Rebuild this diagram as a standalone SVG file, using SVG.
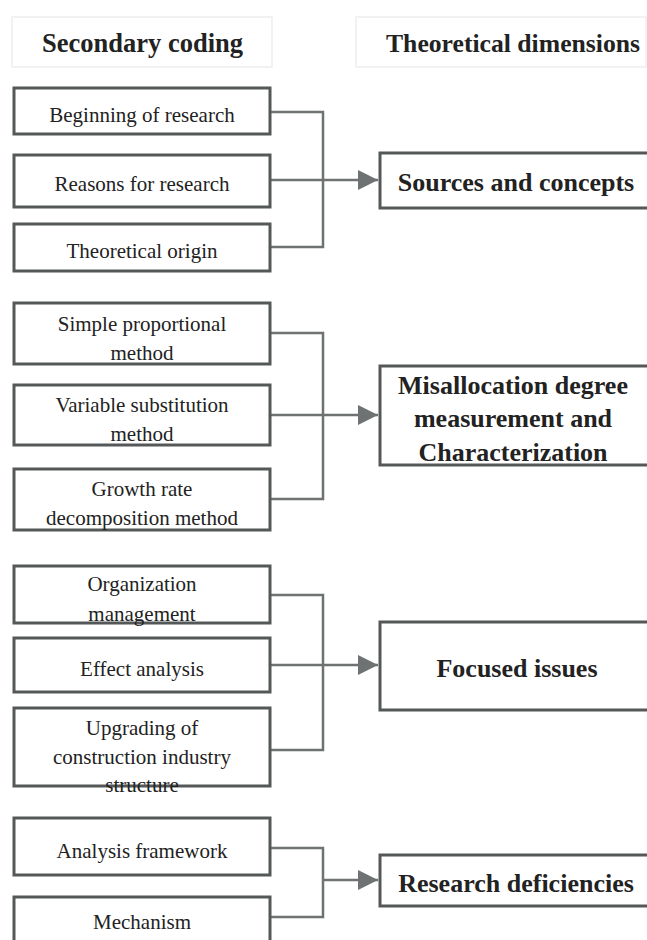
<svg xmlns="http://www.w3.org/2000/svg" width="647" height="940" viewBox="0 0 647 940">
<defs>
<style>
.hdr{fill:#fff;stroke:#eeeeee;stroke-width:1.5}
.box{fill:#fff;stroke:#555858;stroke-width:3}
.t{font-family:"Liberation Serif","Times New Roman",serif;font-size:21px;fill:#222;text-anchor:middle}
.b{font-family:"Liberation Serif","Times New Roman",serif;font-size:26px;font-weight:bold;fill:#222;text-anchor:middle}
.h{font-family:"Liberation Serif","Times New Roman",serif;font-size:26.5px;font-weight:bold;fill:#222}
.c{fill:none;stroke:#6e7272;stroke-width:2.5}
</style>
<marker id="arr" viewBox="0 0 10 10" refX="10" refY="5" markerWidth="9" markerHeight="8" markerUnits="strokeWidth" orient="auto">
<path d="M0,0 L10,5 L0,10 Z" fill="#6e7272"/>
</marker>
</defs>
<rect width="647" height="940" fill="#fff"/>

<g id="header-left">
<rect class="hdr" x="12" y="17" width="260" height="50"/>
<text class="h" x="42" y="52" textLength="201" lengthAdjust="spacingAndGlyphs">Secondary coding</text>
</g>
<g id="header-right">
<rect class="hdr" x="356" y="17" width="290" height="50"/>
<text class="h" x="386" y="52" style="font-size:25.5px" textLength="254" lengthAdjust="spacingAndGlyphs">Theoretical dimensions</text>
</g>

<g id="connectors">
<path class="c" d="M270,112 H323 V247 H270 M270,180 H323"/>
<path class="c" d="M323,180 H378" marker-end="url(#arr)"/>
<path class="c" d="M270,333 H323 V499 H270 M270,415 H323"/>
<path class="c" d="M323,415 H378" marker-end="url(#arr)"/>
<path class="c" d="M270,595 H323 V750 H270 M270,665 H323"/>
<path class="c" d="M323,665 H378" marker-end="url(#arr)"/>
<path class="c" d="M270,848 H323 V917 H270"/>
<path class="c" d="M323,880 H378" marker-end="url(#arr)"/>
</g>

<g id="n-beginning"><rect class="box" x="14" y="88" width="256" height="46"/><text class="t" x="142" y="122">Beginning of research</text></g>
<g id="n-reasons"><rect class="box" x="14" y="155" width="256" height="52"/><text class="t" x="142" y="191">Reasons for research</text></g>
<g id="n-origin"><rect class="box" x="14" y="224" width="256" height="47"/><text class="t" x="142" y="258">Theoretical origin</text></g>

<g id="n-simple"><rect class="box" x="14" y="303" width="256" height="61"/><text class="t" x="142" y="331">Simple proportional</text><text class="t" x="142" y="360">method</text></g>
<g id="n-variable"><rect class="box" x="14" y="385" width="256" height="60"/><text class="t" x="142" y="412">Variable substitution</text><text class="t" x="142" y="441">method</text></g>
<g id="n-growth"><rect class="box" x="14" y="469" width="256" height="61"/><text class="t" x="142" y="496">Growth rate</text><text class="t" x="142" y="525">decomposition method</text></g>

<g id="n-org"><rect class="box" x="14" y="566" width="256" height="57"/><text class="t" x="142" y="591">Organization</text><text class="t" x="142" y="621">management</text></g>
<g id="n-effect"><rect class="box" x="14" y="638" width="256" height="54"/><text class="t" x="142" y="676">Effect analysis</text></g>
<g id="n-upgrading"><rect class="box" x="14" y="708" width="256" height="78"/><text class="t" x="142" y="735">Upgrading of</text><text class="t" x="142" y="764">construction industry</text><text class="t" x="142" y="792">structure</text></g>

<g id="n-framework"><rect class="box" x="14" y="818" width="256" height="57"/><text class="t" x="142" y="858">Analysis framework</text></g>
<g id="n-mechanism"><rect class="box" x="14" y="897" width="256" height="60"/><text class="t" x="142" y="929">Mechanism</text></g>

<g id="d-sources"><rect class="box" x="380" y="153" width="290" height="55"/><text class="b" x="516" y="191">Sources and concepts</text></g>
<g id="d-misallocation"><rect class="box" x="380" y="366" width="290" height="99"/><text class="b" x="513" y="394">Misallocation degree</text><text class="b" x="513" y="427">measurement and</text><text class="b" x="513" y="461">Characterization</text></g>
<g id="d-focused"><rect class="box" x="380" y="622" width="290" height="88"/><text class="b" x="517" y="677">Focused issues</text></g>
<g id="d-deficiencies"><rect class="box" x="380" y="855" width="290" height="51"/><text class="b" x="516" y="892">Research deficiencies</text></g>
</svg>
